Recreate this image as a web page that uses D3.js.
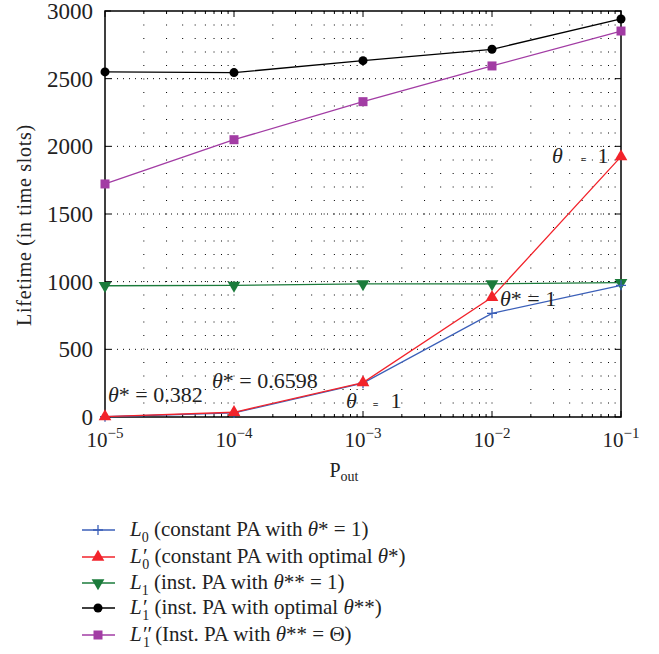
<!DOCTYPE html>
<html><head><meta charset="utf-8">
<script src="https://cdn.jsdelivr.net/npm/d3@7/dist/d3.min.js"></script>
<style>body{margin:0;background:#fff}svg{font-family:"Liberation Serif","DejaVu Serif",serif}</style>
</head><body><svg id="c" width="659" height="654"></svg>
<script>
const pout = [1e-5, 1e-4, 1e-3, 1e-2, 1e-1];
const L0 = [2, 30, 250, 766, 973];
const L0p = [3, 35, 254, 885, 1924];
const L1 = [970, 973, 983, 984, 993];
const L1p = [2550, 2545, 2633, 2717, 2941];
const L1pp = [1722, 2049, 2330, 2594, 2852];
const yTicks = [0, 500, 1000, 1500, 2000, 2500, 3000];
const xTickExp = [-5, -4, -3, -2, -1];

const series = [
  {vals: L0, color: "#3b5fb8", marker: "plus", sub: "0", prime: "", text: [" (constant PA with ", "θ", "* = 1)"]},
  {vals: L0p, color: "#f2232b", marker: "tri", sub: "0", prime: "′", text: [" (constant PA with optimal ", "θ", "*)"]},
  {vals: L1, color: "#1b7b3b", marker: "tridown", sub: "1", prime: "", text: [" (inst. PA with ", "θ", "** = 1)"]},
  {vals: L1p, color: "#000000", marker: "circle", sub: "1", prime: "′", text: [" (inst. PA with optimal ", "θ", "**)"]},
  {vals: L1pp, color: "#a23ca4", marker: "square", sub: "1", prime: "′′", text: [" (Inst. PA with ", "θ", "** = Θ)"]}
];
const drawOrder = [2, 3, 4, 0, 1];

const svg = d3.select("#c");
const x = d3.scaleLog().domain([1e-5, 1e-1]).range([105, 621]);
const y = d3.scaleLinear().domain([0, 3000]).range([417, 11]);

// grid
const minorX = [];
for (let e = -5; e < -1; e++) for (let k = 1; k <= 9; k++) minorX.push(k * Math.pow(10, e));
minorX.push(1e-1);
const g = svg.append("g");
g.selectAll(".vg").data(minorX.filter(v => v > 1e-5 && v < 1e-1)).join("line")
  .attr("x1", d => x(d)).attr("x2", d => x(d)).attr("y1", y(3000)).attr("y2", y(0))
  .attr("stroke", "#000").attr("stroke-width", 1).attr("stroke-dasharray", "1,12.5");
g.selectAll(".hg").data(yTicks.filter(v => v > 0 && v < 3000)).join("line")
  .attr("x1", x(1e-5)).attr("x2", x(1e-1)).attr("y1", d => y(d)).attr("y2", d => y(d))
  .attr("stroke", "#000").attr("stroke-width", 1).attr("stroke-dasharray", "1,5");

// frame
svg.append("rect").attr("x", 105).attr("y", 11).attr("width", 516).attr("height", 406)
  .attr("fill", "none").attr("stroke", "#000").attr("stroke-width", 1.5);

// ticks (inward) on all sides
minorX.forEach(v => {
  const major = Math.abs(Math.log10(v) - Math.round(Math.log10(v))) < 1e-9;
  const len = major ? 6 : 3;
  svg.append("line").attr("x1", x(v)).attr("x2", x(v)).attr("y1", y(0)).attr("y2", y(0) - len).attr("stroke", "#000");
  svg.append("line").attr("x1", x(v)).attr("x2", x(v)).attr("y1", y(3000)).attr("y2", y(3000) + len).attr("stroke", "#000");
});
yTicks.forEach(v => {
  svg.append("line").attr("x1", x(1e-5)).attr("x2", x(1e-5) + 6).attr("y1", y(v)).attr("y2", y(v)).attr("stroke", "#000");
  svg.append("line").attr("x1", x(1e-1)).attr("x2", x(1e-1) - 6).attr("y1", y(v)).attr("y2", y(v)).attr("stroke", "#000");
});

// y tick labels
svg.selectAll(".yl").data(yTicks).join("text")
  .attr("x", 93).attr("y", d => y(d) + 8).attr("text-anchor", "end")
  .attr("font-size", 23).attr("fill", "#222").text(d => d);

// x tick labels
xTickExp.forEach(e => {
  const t = svg.append("text").attr("x", x(Math.pow(10, e))).attr("y", 447)
    .attr("text-anchor", "middle").attr("font-size", 21).attr("fill", "#222");
  t.append("tspan").text("10");
  t.append("tspan").attr("dy", -9).attr("font-size", 15).text("−" + (-e));
});

// axis titles
const xt = svg.append("text").attr("x", 344).attr("y", 477).attr("text-anchor", "middle").attr("font-size", 20).attr("fill", "#222");
xt.append("tspan").text("P");
xt.append("tspan").attr("dy", 4).attr("font-size", 14).text("out");
svg.append("text").attr("transform", "translate(31,225) rotate(-90)").attr("text-anchor", "middle")
  .attr("font-size", 20).attr("letter-spacing", 0.7).attr("fill", "#222")
  .text("Lifetime (in time slots)");

// markers
function marker(sel, type, color, cx, cy) {
  if (type === "plus") {
    sel.append("path").attr("d", `M${cx-5},${cy}H${cx+5}M${cx},${cy-5}V${cy+5}`).attr("stroke", color).attr("stroke-width", 1.3);
  } else if (type === "tri") {
    sel.append("path").attr("d", d3.symbol(d3.symbolTriangle, 70)()).attr("transform", `translate(${cx},${cy})`).attr("fill", color);
  } else if (type === "tridown") {
    sel.append("path").attr("d", d3.symbol(d3.symbolTriangle, 70)()).attr("transform", `translate(${cx},${cy}) rotate(180)`).attr("fill", color);
  } else if (type === "circle") {
    sel.append("circle").attr("cx", cx).attr("cy", cy).attr("r", 4.5).attr("fill", color);
  } else if (type === "square") {
    sel.append("rect").attr("x", cx - 4.5).attr("y", cy - 4.5).attr("width", 9).attr("height", 9).attr("fill", color);
  }
}

const line = d3.line().x((d, i) => x(pout[i])).y(d => y(d));
drawOrder.forEach(i => {
  const s = series[i];
  const gg = svg.append("g");
  gg.append("path").attr("d", line(s.vals)).attr("fill", "none").attr("stroke", s.color).attr("stroke-width", 1.3);
  s.vals.forEach((v, j) => marker(gg, s.marker, s.color, x(pout[j]), y(v)));
});

// annotations
function theta(xp, yp, parts) {
  const t = svg.append("text").attr("x", xp).attr("y", yp).attr("font-size", 22).attr("fill", "#222");
  parts.forEach(p => {
    const ts = t.append("tspan").text(p.t);
    if (p.i) ts.attr("font-style", "italic");
    if (p.dx) ts.attr("dx", p.dx);
    if (p.fs) ts.attr("font-size", p.fs);
    if (p.b) ts.attr("font-weight", "bold");
  });
}
theta(108, 402, [{t: "θ", i: 1}, {t: "* = 0.382"}]);
theta(212, 388, [{t: "θ", i: 1}, {t: "* = 0.6598"}]);
theta(346, 408, [{t: "θ", i: 1}, {t: "=", dx: 16, fs: 10, b: 1}, {t: "1", dx: 12}]);
theta(500, 306, [{t: "θ", i: 1}, {t: "* = 1"}]);
theta(552, 163, [{t: "θ", i: 1}, {t: "=", dx: 18, fs: 10, b: 1}, {t: "1", dx: 11}]);

// legend
const rows = [530, 557, 583, 608, 635];
series.forEach((s, i) => {
  const ly = rows[i];
  svg.append("line").attr("x1", 82).attr("x2", 115).attr("y1", ly).attr("y2", ly).attr("stroke", s.color).attr("stroke-width", 1.3);
  marker(svg, s.marker, s.color, 98, ly);
  const t = svg.append("text").attr("x", 130).attr("y", ly + 6).attr("font-size", 21).attr("fill", "#222");
  t.append("tspan").attr("font-style", "italic").text("L" + s.prime);
  t.append("tspan").attr("dy", 6).attr("dx", s.prime ? -4 * s.prime.length : 0).attr("font-size", 14).text(s.sub);
  t.append("tspan").attr("dy", -6).text(s.text[0]);
  t.append("tspan").attr("font-style", "italic").text(s.text[1]);
  t.append("tspan").text(s.text[2]);
});
</script></body></html>
